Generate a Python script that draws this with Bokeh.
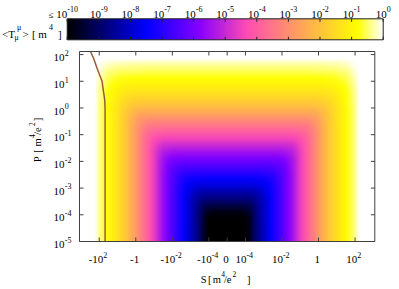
import base64
import struct
import zlib

import numpy as np
from bokeh.plotting import figure
from bokeh.models import LinearColorMapper, Range1d
from bokeh.core.properties import value
from bokeh.embed import file_html
from bokeh.resources import INLINE

# ---------------- data ----------------
# signed decade coordinate of S: u = sign(S) * (log10|S| + 5)
prof_u = [-8.0, -7.75, -7.5, -7.25, -7.0, -6.75, -6.5, -6.25, -6.0, -5.75, -5.5, -5.25, -5.0, -4.75,
          -4.5, -4.25, -4.0, -3.75, -3.5, -3.25, -3.0, -2.75, -2.5, -2.25, -2.0, -1.75, -1.5, -1.25,
          -1.0, -0.75, -0.5, -0.25, 0.0, 0.25, 0.5, 0.75, 1.0, 1.25, 1.5, 1.75, 2.0, 2.25, 2.5, 2.75,
          3.0, 3.25, 3.5, 3.75, 4.0, 4.25, 4.5, 4.75, 5.0, 5.25, 5.5, 5.75, 6.0, 6.25, 6.5, 6.75, 7.0,
          7.25, 7.5, 7.75, 8.0]
# log10 <T> along S at the lowest P
prof_logT_S = [0.6, 0.5, 0.3, 0.05, -0.35, -0.62, -0.9, -1.15, -1.4, -1.7, -2.0, -2.4, -2.8, -3.25,
               -3.7, -4.15, -4.6, -5.1, -5.6, -6.05, -6.5, -6.9, -7.3, -7.7, -8.1, -8.5, -9.0, -9.7,
               -10.3, -10.7, -10.9, -11.0, -11.0, -11.0, -10.9, -10.7, -10.3, -9.7, -9.0, -8.5, -8.1,
               -7.7, -7.3, -6.9, -6.5, -6.05, -5.6, -5.1, -4.6, -4.15, -3.7, -3.25, -2.8, -2.4, -2.0,
               -1.7, -1.4, -1.15, -0.9, -0.62, -0.35, 0.05, 0.3, 0.5, 0.6]
# log10 P rows
prof_logP = [-4.875, -4.625, -4.375, -4.125, -3.875, -3.625, -3.375, -3.125, -2.875, -2.625, -2.375,
             -2.125, -1.875, -1.625, -1.375, -1.125, -0.875, -0.625, -0.375, -0.125, 0.125, 0.375,
             0.625, 0.875, 1.125, 1.375, 1.625, 1.875, 2.125]
# log10 <T> along P at S = 0
prof_logT_P = [-11.0, -10.9, -10.65, -10.3, -9.85, -9.3, -8.75, -8.3, -7.8, -7.4, -6.9, -6.45, -5.95,
               -5.45, -4.95, -4.45, -3.95, -3.45, -2.95, -2.45, -2.0, -1.65, -1.35, -1.05, -0.78,
               -0.53, -0.3, 0.0, 0.3]

# boundary curve
line_S = [-300.0, -200.0, -130.0, -70.0, -58.0, -50.0, -48.0, -48.0]
line_P = [130.0, 70.0, 30.0, 10.0, 4.0, 2.0, 1.0, 1e-5]

# axes
S_lim = 8.08                      # |u| limit of the plot box
logP_lim = (-5.0, 2.115)
x_ticks_S = [-1e2, -1.0, -1e-2, -1e-4, 0.0, 1e-4, 1e-2, 1.0, 1e2]
x_tick_base = ["-10", "-1", "-10", "-10", "0", "10", "10", "1", "10"]
x_tick_exp = ["2", "", "-2", "-4", "", "-4", "-2", "", "2"]
y_ticks = [-5, -4, -3, -2, -1, 0, 1, 2]
y_tick_exp = ["-5", "-4", "-3", "-2", "-1", "0", "1", "2"]
cb_ticks = [-10, -9, -8, -7, -6, -5, -4, -3, -2, -1, 0]
cb_tick_exp = ["-10", "-9", "-8", "-7", "-6", "-5", "-4", "-3", "-2", "-1", "0"]


def s_to_u(s):
    s = np.asarray(s, dtype=float)
    out = np.zeros_like(s)
    nz = s != 0
    out[nz] = np.sign(s[nz]) * (np.log10(np.abs(s[nz])) + 5.0)
    return out


# gnuplot rgbformulae 30,31,32 palette
def _rgb(x):
    r = x / 0.32 - 0.78125
    g = 2 * x - 0.84
    if x < 0.25:
        b = 4 * x
    elif x < 0.42:
        b = 1.0
    elif x < 0.92:
        b = -2 * x + 1.84
    else:
        b = x / 0.08 - 11.5
    return [int(round(min(1.0, max(0.0, c)) * 255)) for c in (r, g, b)]


NPAL = 256
pal_rgb = [_rgb(i / (NPAL - 1)) for i in range(NPAL)]
palette = ["#%02x%02x%02x" % tuple(c) for c in pal_rgb]
mapper = LinearColorMapper(palette=palette, low=-10, high=0, low_color=palette[0], high_color="#ffffff")


def png_url(logT_rows_top_first):
    """Colour a grid of log10 values with the palette and pack it as a PNG data URL."""
    a = np.asarray(logT_rows_top_first, dtype=float)
    idx = np.clip(np.round((a + 10.0) / 10.0 * (NPAL - 1)), 0, NPAL - 1).astype(int)
    rgb = np.array(pal_rgb, dtype=np.uint8)[idx]
    rgb[a > 0] = 255
    h, w, _ = rgb.shape
    raw = b"".join(b"\x00" + rgb[i].tobytes() for i in range(h))

    def chunk(tag, data):
        return struct.pack(">I", len(data)) + tag + data + struct.pack(">I", zlib.crc32(tag + data) & 0xFFFFFFFF)

    png = (b"\x89PNG\r\n\x1a\n" + chunk(b"IHDR", struct.pack(">IIBBBBB", w, h, 8, 2, 0, 0, 0))
           + chunk(b"IDAT", zlib.compress(raw, 9)) + chunk(b"IEND", b""))
    return "data:image/png;base64," + base64.b64encode(png).decode()


FONT = "Liberation Serif"
FRAME = "#404040"

# ---------------- layout geometry (pixels of the 399x289 page) ----------------
W, H = 399, 289
BOX_L, BOX_R, BOX_T, BOX_B = 79.0, 374.3, 51.0, 241.0
KU = (BOX_R - BOX_L) / (2 * S_lim)                 # px per unit of u
U0 = (BOX_L + BOX_R) / 2.0
KP = (BOX_B - BOX_T) / (logP_lim[1] - logP_lim[0])  # px per decade of P


def ux(X):
    return (X - U0) / KU


def ly(Y):
    return logP_lim[0] + (BOX_B - Y) / KP


p = figure(width=W, height=H, x_range=Range1d(ux(0), ux(W)), y_range=Range1d(ly(H), ly(0)),
           output_backend="svg", toolbar_location=None, x_axis_location=None, y_axis_location=None,
           min_border=0)
p.grid.visible = False
p.outline_line_color = None

WID = {"-": 0.333, "/": 0.278, "e": 0.444}


def tw(s, size):
    return sum(WID.get(c, 0.5) for c in s) * size


def txt(xs, ys, texts, size, align="left", angle=0.0):
    p.text(x=list(xs), y=list(ys), text=list(texts), text_font=value(FONT), text_font_size=value("%gpx" % size),
           text_align=align, text_baseline="alphabetic", text_color="black", angle=angle)


# ---- heat map (cells at the read positions, smoothed by the browser when scaled) ----
grid = np.log10(10.0 ** np.array(prof_logT_P)[:, None] + 10.0 ** np.array(prof_logT_S)[None, :])
du = prof_u[1] - prof_u[0]
dp = prof_logP[1] - prof_logP[0]
p.image_url(url=[png_url(grid[::-1])], x=prof_u[0] - du / 2, y=prof_logP[0] - dp / 2,
            w=prof_u[-1] - prof_u[0] + du, h=prof_logP[-1] - prof_logP[0] + dp, anchor="bottom_left")

# ---- boundary curve ----
p.line(x=s_to_u(line_S), y=np.log10(line_P), line_color="#9b5b3a", line_width=1.5)

# ---- plot box and inward ticks on all four sides ----
p.quad(left=-S_lim, right=S_lim, bottom=logP_lim[0], top=logP_lim[1], fill_color=None,
       line_color=FRAME, line_width=1)
xt = [float(v) for v in s_to_u(x_ticks_S)]
n = len(xt)
p.segment(x0=xt, y0=[logP_lim[0]] * n, x1=xt, y1=[logP_lim[0] + 4 / KP] * n, line_color=FRAME)
p.segment(x0=xt, y0=[logP_lim[1]] * n, x1=xt, y1=[logP_lim[1] - 4 / KP] * n, line_color=FRAME)
m = len(y_ticks)
p.segment(x0=[-S_lim] * m, y0=y_ticks, x1=[-S_lim + 4 / KU] * m, y1=y_ticks, line_color=FRAME)
p.segment(x0=[S_lim] * m, y0=y_ticks, x1=[S_lim - 4 / KU] * m, y1=y_ticks, line_color=FRAME)

# ---- x tick labels ----
BF, EF = 11.0, 8.0
xs_b, xs_e = [], []
for t, b, e in zip(xt, x_tick_base, x_tick_exp):
    wb, we = tw(b, BF), tw(e, EF)
    start = U0 + t * KU - (wb + we) / 2.0 - 1.2
    xs_b.append(ux(start))
    xs_e.append(ux(start + wb))
txt(xs_b, [ly(258.5)] * n, x_tick_base, BF)
txt(xs_e, [ly(254.3)] * n, x_tick_exp, EF)

# ---- y tick labels ----
ty = [BOX_B - (v - logP_lim[0]) * KP for v in y_ticks]
txt([ux(64.0)] * m, [ly(Y + 3.2) for Y in ty], ["10"] * m, BF, align="right")
txt([ux(64.3)] * m, [ly(Y - 1.6) for Y in ty], y_tick_exp, EF)

# ---- axis titles (gnuplot enhanced-text pieces) ----
TF, SF = 10.5, 7.5
xt_parts = ["S", "[", "m", "4", "/e", "2", "]"]
xt_X = [200.3, 207.6, 212.2, 220.8, 223.4, 232.0, 246.4]
xt_Y = [279.3, 279.3, 279.3, 273.8, 279.3, 273.8, 279.3]
xt_F = [TF, TF, TF, SF, TF, SF, TF]
for t, X, Y, f in zip(xt_parts, xt_X, xt_Y, xt_F):
    txt([ux(X)], [ly(Y)], [t], f)
yt_parts = ["P", "[", "m", "4", "/e", "2", "]"]
yt_Y = [161.7, 152.2, 146.0, 137.4, 134.4, 125.4, 120.8]
yt_X = [36.6, 36.6, 36.6, 31.2, 36.6, 31.2, 36.6]
for t, X, Y, f in zip(yt_parts, yt_X, yt_Y, xt_F):
    txt([ux(X)], [ly(Y)], [t], f, angle=np.pi / 2)

# ---- colour bar ----
CB_L, CB_R, CB_T, CB_B = 66.7, 382.7, 18.3, 39.3
PXD = (CB_R - CB_L) / 10.0


def cbX(d):
    return CB_L + (d + 10) * PXD


p.image(image=[np.linspace(-10, 0, 256)[None, :]], x=ux(CB_L), y=ly(CB_B), dw=(CB_R - CB_L) / KU,
        dh=(CB_B - CB_T) / KP, color_mapper=mapper)
p.quad(left=ux(CB_L), right=ux(CB_R), bottom=ly(CB_B), top=ly(CB_T), fill_color=None,
       line_color="#202020", line_width=1)
cu = [ux(cbX(d)) for d in cb_ticks]
k = len(cu)
p.segment(x0=cu, y0=[ly(CB_B)] * k, x1=cu, y1=[ly(CB_B - 3)] * k, line_color="#202020")
p.segment(x0=cu, y0=[ly(CB_T)] * k, x1=cu, y1=[ly(CB_T + 3)] * k, line_color="#202020")
cb_b, cb_e = [], []
for d, e in zip(cb_ticks, cb_tick_exp):
    wb, we = tw("10", BF), tw(e, EF)
    start = cbX(d) - (wb + we) / 2.0
    cb_b.append(ux(start))
    cb_e.append(ux(start + wb))
txt(cb_b, [ly(14.3)] * k, ["10"] * k, BF)
txt(cb_e, [ly(8.6)] * k, cb_tick_exp, EF)
txt([ux(48.3)], [ly(14.0)], ["≤"], 9)

# colour-bar title  <T_mu^mu> [ m^4 ]
title_parts = ["<T", "μ", "μ", ">", "[", "m", "4", "]"]
title_X = [1.5, 14.0, 16.5, 22.0, 31.5, 37.8, 48.6, 57.6]
title_Y = [33.5, 36.5, 26.5, 33.5, 33.5, 33.5, 26.7, 33.5]
title_F = [11, 8, 8, 11, 11, 11, 8, 11]
for t, X, Y, f in zip(title_parts, title_X, title_Y, title_F):
    txt([ux(X)], [ly(Y)], [t], f)

open("out.html", "w").write(file_html(p, INLINE))
